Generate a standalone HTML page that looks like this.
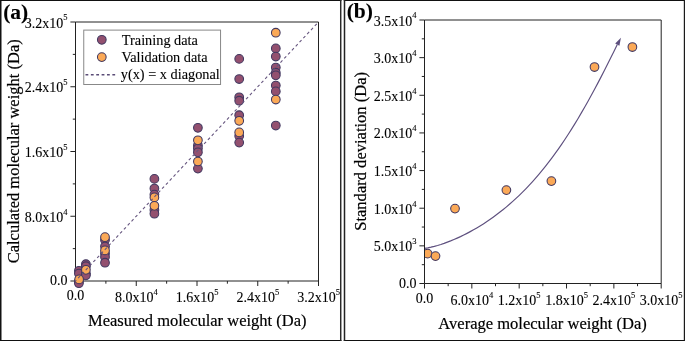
<!DOCTYPE html>
<html><head><meta charset="utf-8"><style>
html,body{margin:0;padding:0;background:#fff}
svg{display:block;will-change:transform}
text{font-family:"Liberation Serif",serif;fill:#000;stroke:#000;stroke-width:0.1px}
.t{stroke:#000;stroke-width:0.2px}
.l{stroke:#000;stroke-width:0.1px}
</style></head><body>
<svg width="685" height="341" viewBox="0 0 685 341">
<line x1="0" y1="0.5" x2="341.45" y2="0.5" stroke="#111" stroke-width="1" />
<line x1="0" y1="340.5" x2="341.45" y2="340.5" stroke="#111" stroke-width="1" />
<line x1="0.75" y1="0" x2="0.75" y2="341" stroke="#111" stroke-width="1.5" />
<line x1="340.72" y1="0" x2="340.72" y2="341" stroke="#2a2a2a" stroke-width="1.45" />
<line x1="343.75" y1="0.5" x2="685" y2="0.5" stroke="#111" stroke-width="1" />
<line x1="343.75" y1="340.5" x2="685" y2="340.5" stroke="#111" stroke-width="1" />
<line x1="344.5" y1="0" x2="344.5" y2="341" stroke="#222" stroke-width="1.5" />
<line x1="684.4" y1="0" x2="684.4" y2="341" stroke="#1a1a1a" stroke-width="1.2" />
<line x1="75.5" y1="22.0" x2="318.5" y2="22.0" stroke="#222" stroke-width="1" />
<line x1="318.5" y1="22.0" x2="318.5" y2="281.0" stroke="#222" stroke-width="1" />
<line x1="75.5" y1="281.0" x2="318.5" y2="281.0" stroke="#222" stroke-width="1" />
<line x1="75.5" y1="22.0" x2="75.5" y2="281.0" stroke="#222" stroke-width="1" />
<line x1="70.4" y1="281.0" x2="75.5" y2="281.0" stroke="#222" stroke-width="1" />
<line x1="75.5" y1="281.0" x2="75.5" y2="286.0" stroke="#222" stroke-width="1" />
<line x1="70.4" y1="216.25" x2="75.5" y2="216.25" stroke="#222" stroke-width="1" />
<line x1="136.25" y1="281.0" x2="136.25" y2="286.0" stroke="#222" stroke-width="1" />
<line x1="70.4" y1="151.5" x2="75.5" y2="151.5" stroke="#222" stroke-width="1" />
<line x1="197.0" y1="281.0" x2="197.0" y2="286.0" stroke="#222" stroke-width="1" />
<line x1="70.4" y1="86.75" x2="75.5" y2="86.75" stroke="#222" stroke-width="1" />
<line x1="257.75" y1="281.0" x2="257.75" y2="286.0" stroke="#222" stroke-width="1" />
<line x1="70.4" y1="22.0" x2="75.5" y2="22.0" stroke="#222" stroke-width="1" />
<line x1="318.5" y1="281.0" x2="318.5" y2="286.0" stroke="#222" stroke-width="1" />
<line x1="72.8" y1="248.625" x2="75.5" y2="248.625" stroke="#222" stroke-width="1" />
<line x1="105.875" y1="281.0" x2="105.875" y2="283.7" stroke="#222" stroke-width="1" />
<line x1="72.8" y1="183.875" x2="75.5" y2="183.875" stroke="#222" stroke-width="1" />
<line x1="166.625" y1="281.0" x2="166.625" y2="283.7" stroke="#222" stroke-width="1" />
<line x1="72.8" y1="119.125" x2="75.5" y2="119.125" stroke="#222" stroke-width="1" />
<line x1="227.375" y1="281.0" x2="227.375" y2="283.7" stroke="#222" stroke-width="1" />
<line x1="72.8" y1="54.375" x2="75.5" y2="54.375" stroke="#222" stroke-width="1" />
<line x1="288.125" y1="281.0" x2="288.125" y2="283.7" stroke="#222" stroke-width="1" />
<circle cx="78.9" cy="270.8" r="4.35" fill="#93506f" stroke="#413860" stroke-width="1.05"/>
<circle cx="78.9" cy="273.5" r="4.35" fill="#93506f" stroke="#413860" stroke-width="1.05"/>
<circle cx="78.9" cy="281.5" r="4.35" fill="#93506f" stroke="#413860" stroke-width="1.05"/>
<circle cx="78.9" cy="283.2" r="4.35" fill="#93506f" stroke="#413860" stroke-width="1.05"/>
<circle cx="85.9" cy="264.2" r="4.35" fill="#93506f" stroke="#413860" stroke-width="1.05"/>
<circle cx="85.9" cy="266.2" r="4.35" fill="#93506f" stroke="#413860" stroke-width="1.05"/>
<circle cx="85.9" cy="273.5" r="4.35" fill="#93506f" stroke="#413860" stroke-width="1.05"/>
<circle cx="85.9" cy="275.3" r="4.35" fill="#93506f" stroke="#413860" stroke-width="1.05"/>
<circle cx="105" cy="240" r="4.35" fill="#93506f" stroke="#413860" stroke-width="1.05"/>
<circle cx="105" cy="246.5" r="4.35" fill="#93506f" stroke="#413860" stroke-width="1.05"/>
<circle cx="105" cy="253.5" r="4.35" fill="#93506f" stroke="#413860" stroke-width="1.05"/>
<circle cx="105" cy="257" r="4.35" fill="#93506f" stroke="#413860" stroke-width="1.05"/>
<circle cx="105" cy="262.7" r="4.35" fill="#93506f" stroke="#413860" stroke-width="1.05"/>
<circle cx="154.4" cy="178.9" r="4.35" fill="#93506f" stroke="#413860" stroke-width="1.05"/>
<circle cx="154.4" cy="188.5" r="4.35" fill="#93506f" stroke="#413860" stroke-width="1.05"/>
<circle cx="154.4" cy="194.6" r="4.35" fill="#93506f" stroke="#413860" stroke-width="1.05"/>
<circle cx="154.4" cy="210" r="4.35" fill="#93506f" stroke="#413860" stroke-width="1.05"/>
<circle cx="154.4" cy="213.7" r="4.35" fill="#93506f" stroke="#413860" stroke-width="1.05"/>
<circle cx="197.9" cy="127.8" r="4.35" fill="#93506f" stroke="#413860" stroke-width="1.05"/>
<circle cx="197.9" cy="145.5" r="4.35" fill="#93506f" stroke="#413860" stroke-width="1.05"/>
<circle cx="197.9" cy="148.5" r="4.35" fill="#93506f" stroke="#413860" stroke-width="1.05"/>
<circle cx="197.9" cy="152.3" r="4.35" fill="#93506f" stroke="#413860" stroke-width="1.05"/>
<circle cx="197.9" cy="168.6" r="4.35" fill="#93506f" stroke="#413860" stroke-width="1.05"/>
<circle cx="239.2" cy="58.9" r="4.35" fill="#93506f" stroke="#413860" stroke-width="1.05"/>
<circle cx="239.2" cy="79" r="4.35" fill="#93506f" stroke="#413860" stroke-width="1.05"/>
<circle cx="239.2" cy="97.3" r="4.35" fill="#93506f" stroke="#413860" stroke-width="1.05"/>
<circle cx="239.2" cy="100.7" r="4.35" fill="#93506f" stroke="#413860" stroke-width="1.05"/>
<circle cx="239.2" cy="115.2" r="4.35" fill="#93506f" stroke="#413860" stroke-width="1.05"/>
<circle cx="239.2" cy="136.1" r="4.35" fill="#93506f" stroke="#413860" stroke-width="1.05"/>
<circle cx="239.2" cy="142.6" r="4.35" fill="#93506f" stroke="#413860" stroke-width="1.05"/>
<circle cx="275.8" cy="48.4" r="4.35" fill="#93506f" stroke="#413860" stroke-width="1.05"/>
<circle cx="275.8" cy="56.5" r="4.35" fill="#93506f" stroke="#413860" stroke-width="1.05"/>
<circle cx="275.8" cy="67.5" r="4.35" fill="#93506f" stroke="#413860" stroke-width="1.05"/>
<circle cx="275.8" cy="72.7" r="4.35" fill="#93506f" stroke="#413860" stroke-width="1.05"/>
<circle cx="275.8" cy="75.3" r="4.35" fill="#93506f" stroke="#413860" stroke-width="1.05"/>
<circle cx="275.8" cy="85.5" r="4.35" fill="#93506f" stroke="#413860" stroke-width="1.05"/>
<circle cx="275.8" cy="91.4" r="4.35" fill="#93506f" stroke="#413860" stroke-width="1.05"/>
<circle cx="275.8" cy="125.5" r="4.35" fill="#93506f" stroke="#413860" stroke-width="1.05"/>
<circle cx="79.1" cy="279.4" r="4.35" fill="#fba957" stroke="#413860" stroke-width="1.05"/>
<circle cx="85.9" cy="269.8" r="4.35" fill="#fba957" stroke="#413860" stroke-width="1.05"/>
<circle cx="105" cy="237.2" r="4.35" fill="#fba957" stroke="#413860" stroke-width="1.05"/>
<circle cx="105" cy="250.4" r="4.35" fill="#fba957" stroke="#413860" stroke-width="1.05"/>
<circle cx="154.4" cy="197.4" r="4.35" fill="#fba957" stroke="#413860" stroke-width="1.05"/>
<circle cx="154.4" cy="205.8" r="4.35" fill="#fba957" stroke="#413860" stroke-width="1.05"/>
<circle cx="197.9" cy="140.3" r="4.35" fill="#fba957" stroke="#413860" stroke-width="1.05"/>
<circle cx="197.9" cy="161.5" r="4.35" fill="#fba957" stroke="#413860" stroke-width="1.05"/>
<circle cx="239.2" cy="120.8" r="4.35" fill="#fba957" stroke="#413860" stroke-width="1.05"/>
<circle cx="239.2" cy="132.4" r="4.35" fill="#fba957" stroke="#413860" stroke-width="1.05"/>
<circle cx="275.8" cy="32.7" r="4.35" fill="#fba957" stroke="#413860" stroke-width="1.05"/>
<circle cx="275.8" cy="99.5" r="4.35" fill="#fba957" stroke="#413860" stroke-width="1.05"/>
<line x1="75.5" y1="281.0" x2="318.5" y2="22.0" stroke="#66567f" stroke-width="1.1" stroke-dasharray="2.93 2.65" stroke-dashoffset="1.8"/>
<text x="67.5" y="285.4" font-size="14" text-anchor="end" >0.0</text>
<text x="67.5" y="221.75" font-size="14" text-anchor="end">8.0x10<tspan font-size="8.5" dy="-7.2">4</tspan></text>
<text x="67.5" y="157.0" font-size="14" text-anchor="end">1.6x10<tspan font-size="8.5" dy="-7.2">5</tspan></text>
<text x="67.5" y="92.25" font-size="14" text-anchor="end">2.4x10<tspan font-size="8.5" dy="-7.2">5</tspan></text>
<text x="67.5" y="27.5" font-size="14" text-anchor="end">3.2x10<tspan font-size="8.5" dy="-7.2">5</tspan></text>
<text x="75.5" y="300.4" font-size="14" text-anchor="middle" >0.0</text>
<text x="136.25" y="302.4" font-size="14" text-anchor="middle">8.0x10<tspan font-size="8.5" dy="-7.2">4</tspan></text>
<text x="197.0" y="302.4" font-size="14" text-anchor="middle">1.6x10<tspan font-size="8.5" dy="-7.2">5</tspan></text>
<text x="257.75" y="302.4" font-size="14" text-anchor="middle">2.4x10<tspan font-size="8.5" dy="-7.2">5</tspan></text>
<text x="318.5" y="302.4" font-size="14" text-anchor="middle">3.2x10<tspan font-size="8.5" dy="-7.2">5</tspan></text>
<text x="197.25" y="325.5" font-size="16.5" text-anchor="middle" class="t">Measured molecular weight (Da)</text>
<text class="t" transform="translate(19.3,151.3) rotate(-90)" font-size="16.5" text-anchor="middle">Calculated molecular weight (Da)</text>
<rect x="83.75" y="30.1" width="136.8" height="54.4" fill="#fff" stroke="#888" stroke-width="1"/>
<circle cx="101.8" cy="39.8" r="4.35" fill="#93506f" stroke="#413860" stroke-width="1.05"/>
<circle cx="101.8" cy="57.1" r="4.35" fill="#fba957" stroke="#413860" stroke-width="1.05"/>
<line x1="85.5" y1="74.7" x2="115.7" y2="74.7" stroke="#5a4c76" stroke-width="1.5" stroke-dasharray="2.8 2.57"/>
<text x="121.8" y="44.7" font-size="14.3" text-anchor="start" class="l">Training data</text>
<text x="121.5" y="61.6" font-size="14.3" text-anchor="start" class="l">Validation data</text>
<text x="120.8" y="79.2" font-size="14.3" text-anchor="start" class="l">y(x) = x diagonal</text>
<text x="3.2" y="18.6" font-size="21.5" text-anchor="start" font-weight="bold">(a)</text>
<line x1="424.5" y1="20.0" x2="661.2" y2="20.0" stroke="#222" stroke-width="1" />
<line x1="661.2" y1="20.0" x2="661.2" y2="283.5" stroke="#222" stroke-width="1" />
<polyline points="424.50,248.41 427.77,247.83 431.04,247.13 434.30,246.33 437.57,245.43 440.84,244.43 444.11,243.34 447.37,242.16 450.64,240.90 453.91,239.55 457.18,238.12 460.45,236.62 463.71,235.03 466.98,233.37 470.25,231.63 473.52,229.81 476.78,227.92 480.05,225.94 483.32,223.89 486.59,221.75 489.86,219.53 493.12,217.22 496.39,214.82 499.66,212.33 502.93,209.75 506.19,207.08 509.46,204.30 512.73,201.42 516.00,198.44 519.27,195.35 522.53,192.14 525.80,188.83 529.07,185.39 532.34,181.84 535.61,178.16 538.87,174.36 542.14,170.44 545.41,166.38 548.68,162.19 551.94,157.87 555.21,153.41 558.48,148.82 561.75,144.10 565.02,139.24 568.28,134.24 571.55,129.10 574.82,123.84 578.09,118.44 581.35,112.90 584.62,107.24 587.89,101.46 591.16,95.55 594.43,89.53 597.69,83.39 600.96,77.14 604.23,70.80 607.50,64.36 610.76,57.84 614.03,51.24 617.30,44.57" fill="none" stroke="#5d4f7e" stroke-width="1.15" stroke-linejoin="round"/>
<polygon points="620.9,37.8 615.2,43.5 619.4,45.7" fill="#5d4f7e"/>
<clipPath id="cb"><rect x="424.5" y="0" width="300" height="283.5"/></clipPath><g clip-path="url(#cb)">
<circle cx="427.6" cy="253.6" r="4.35" fill="#fba957" stroke="#413860" stroke-width="1.05"/>
<circle cx="435.5" cy="256.1" r="4.35" fill="#fba957" stroke="#413860" stroke-width="1.05"/>
<circle cx="455.0" cy="208.6" r="4.35" fill="#fba957" stroke="#413860" stroke-width="1.05"/>
<circle cx="506.4" cy="190.1" r="4.35" fill="#fba957" stroke="#413860" stroke-width="1.05"/>
<circle cx="551.4" cy="181.1" r="4.35" fill="#fba957" stroke="#413860" stroke-width="1.05"/>
<circle cx="594.5" cy="67.0" r="4.35" fill="#fba957" stroke="#413860" stroke-width="1.05"/>
<circle cx="632.4" cy="47.0" r="4.35" fill="#fba957" stroke="#413860" stroke-width="1.05"/>
</g>
<line x1="424.5" y1="283.5" x2="661.2" y2="283.5" stroke="#222" stroke-width="1" />
<line x1="424.5" y1="20.0" x2="424.5" y2="283.5" stroke="#222" stroke-width="1" />
<line x1="419.4" y1="283.5" x2="424.5" y2="283.5" stroke="#222" stroke-width="1" />
<line x1="421.8" y1="264.67857142857144" x2="424.5" y2="264.67857142857144" stroke="#222" stroke-width="1" />
<line x1="419.4" y1="245.85714285714286" x2="424.5" y2="245.85714285714286" stroke="#222" stroke-width="1" />
<line x1="421.8" y1="227.03571428571428" x2="424.5" y2="227.03571428571428" stroke="#222" stroke-width="1" />
<line x1="419.4" y1="208.21428571428572" x2="424.5" y2="208.21428571428572" stroke="#222" stroke-width="1" />
<line x1="421.8" y1="189.39285714285714" x2="424.5" y2="189.39285714285714" stroke="#222" stroke-width="1" />
<line x1="419.4" y1="170.57142857142856" x2="424.5" y2="170.57142857142856" stroke="#222" stroke-width="1" />
<line x1="421.8" y1="151.75" x2="424.5" y2="151.75" stroke="#222" stroke-width="1" />
<line x1="419.4" y1="132.92857142857142" x2="424.5" y2="132.92857142857142" stroke="#222" stroke-width="1" />
<line x1="421.8" y1="114.10714285714286" x2="424.5" y2="114.10714285714286" stroke="#222" stroke-width="1" />
<line x1="419.4" y1="95.28571428571428" x2="424.5" y2="95.28571428571428" stroke="#222" stroke-width="1" />
<line x1="421.8" y1="76.46428571428572" x2="424.5" y2="76.46428571428572" stroke="#222" stroke-width="1" />
<line x1="419.4" y1="57.64285714285714" x2="424.5" y2="57.64285714285714" stroke="#222" stroke-width="1" />
<line x1="421.8" y1="38.821428571428584" x2="424.5" y2="38.821428571428584" stroke="#222" stroke-width="1" />
<line x1="419.4" y1="20.0" x2="424.5" y2="20.0" stroke="#222" stroke-width="1" />
<line x1="424.5" y1="283.5" x2="424.5" y2="288.5" stroke="#222" stroke-width="1" />
<line x1="448.17" y1="283.5" x2="448.17" y2="286.2" stroke="#222" stroke-width="1" />
<line x1="471.84000000000003" y1="283.5" x2="471.84000000000003" y2="288.5" stroke="#222" stroke-width="1" />
<line x1="495.51" y1="283.5" x2="495.51" y2="286.2" stroke="#222" stroke-width="1" />
<line x1="519.1800000000001" y1="283.5" x2="519.1800000000001" y2="288.5" stroke="#222" stroke-width="1" />
<line x1="542.85" y1="283.5" x2="542.85" y2="286.2" stroke="#222" stroke-width="1" />
<line x1="566.52" y1="283.5" x2="566.52" y2="288.5" stroke="#222" stroke-width="1" />
<line x1="590.19" y1="283.5" x2="590.19" y2="286.2" stroke="#222" stroke-width="1" />
<line x1="613.86" y1="283.5" x2="613.86" y2="288.5" stroke="#222" stroke-width="1" />
<line x1="637.5300000000001" y1="283.5" x2="637.5300000000001" y2="286.2" stroke="#222" stroke-width="1" />
<line x1="661.2" y1="283.5" x2="661.2" y2="288.5" stroke="#222" stroke-width="1" />
<text x="416.5" y="287.9" font-size="14" text-anchor="end" >0.0</text>
<text x="416.5" y="251.35714285714286" font-size="14" text-anchor="end">5.0x10<tspan font-size="8.5" dy="-7.2">3</tspan></text>
<text x="416.5" y="213.71428571428572" font-size="14" text-anchor="end">1.0x10<tspan font-size="8.5" dy="-7.2">4</tspan></text>
<text x="416.5" y="176.07142857142856" font-size="14" text-anchor="end">1.5x10<tspan font-size="8.5" dy="-7.2">4</tspan></text>
<text x="416.5" y="138.42857142857142" font-size="14" text-anchor="end">2.0x10<tspan font-size="8.5" dy="-7.2">4</tspan></text>
<text x="416.5" y="100.78571428571428" font-size="14" text-anchor="end">2.5x10<tspan font-size="8.5" dy="-7.2">4</tspan></text>
<text x="416.5" y="63.14285714285714" font-size="14" text-anchor="end">3.0x10<tspan font-size="8.5" dy="-7.2">4</tspan></text>
<text x="416.5" y="25.5" font-size="14" text-anchor="end">3.5x10<tspan font-size="8.5" dy="-7.2">4</tspan></text>
<text x="424.5" y="303" font-size="14" text-anchor="middle" >0.0</text>
<text x="471.84000000000003" y="305" font-size="14" text-anchor="middle">6.0x10<tspan font-size="8.5" dy="-7.2">4</tspan></text>
<text x="519.1800000000001" y="305" font-size="14" text-anchor="middle">1.2x10<tspan font-size="8.5" dy="-7.2">5</tspan></text>
<text x="566.52" y="305" font-size="14" text-anchor="middle">1.8x10<tspan font-size="8.5" dy="-7.2">5</tspan></text>
<text x="613.86" y="305" font-size="14" text-anchor="middle">2.4x10<tspan font-size="8.5" dy="-7.2">5</tspan></text>
<text x="661.2" y="305" font-size="14" text-anchor="middle">3.0x10<tspan font-size="8.5" dy="-7.2">5</tspan></text>
<text x="542.6" y="328.9" font-size="16.55" text-anchor="middle" class="t">Average molecular weight (Da)</text>
<text class="t" transform="translate(365.6,151.35) rotate(-90)" font-size="16.55" text-anchor="middle">Standard deviation (Da)</text>
<text x="346.7" y="18.3" font-size="21.5" text-anchor="start" font-weight="bold">(b)</text>
</svg>
</body></html>
